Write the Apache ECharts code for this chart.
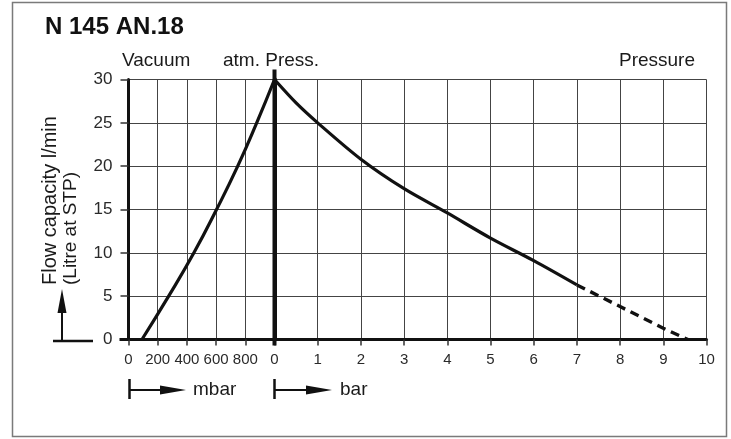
<!DOCTYPE html>
<html>
<head>
<meta charset="utf-8">
<script src="https://cdn.jsdelivr.net/npm/echarts@6/dist/echarts.min.js"></script>
<style>
html,body{margin:0;padding:0;background:#fff;}
#c{width:731px;height:439px;}
</style>
</head>
<body>
<div id="c"></div>
<script>
// ---- data ----
const title = 'N 145 AN.18';
const yName1 = 'Flow capacity l/min';
const yName2 = '(Litre at STP)';
const vacuumMbar = [92, 275, 448, 603, 748, 878, 1000];
const vacuumFlow = [0, 5, 10, 15, 20, 25, 30];
const pressureBar = [0, 0.5, 1, 2, 3, 4, 5, 6, 7];
const pressureFlow = [30, 27.3, 25, 20.8, 17.4, 14.6, 11.7, 9.1, 6.3];
const dashBar = [7, 8, 9, 9.57];
const dashFlow = [6.3, 3.8, 1.3, 0];
const vacuumTicks = [0, 1000, 200];   // min, max, interval (mbar)
const pressureTicks = [0, 10, 1];     // min, max, interval (bar)
const flowTicks = [0, 30, 5];

const FONT = '"Liberation Sans", Arial, Helvetica, sans-serif';
const pair = (xs, ys) => xs.map((x, i) => [x, ys[i]]);

const chart = echarts.init(document.getElementById('c'), null, {renderer: 'canvas'});

const gridTop = 79.5, gridH = 260;
const splitStyle = {lineStyle: {color: '#444', width: 1}};
const xLabel = {fontFamily: FONT, fontSize: 15, color: '#2a2a2a', margin: 13};

const option = {
  animation: false,
  backgroundColor: '#fff',
  grid: [
    {left: 128.5, top: gridTop, width: 146, height: gridH, outerBoundsMode: 'none'},
    {left: 274.5, top: gridTop, width: 432, height: gridH, outerBoundsMode: 'none'}
  ],
  xAxis: [
    {gridIndex: 0, type: 'value', min: vacuumTicks[0], max: vacuumTicks[1], interval: vacuumTicks[2],
     axisLine: {show: true, lineStyle: {color: '#111', width: 3}},
     axisTick: {show: true, length: 6, lineStyle: {color: '#333', width: 1.5}},
     axisLabel: Object.assign({showMaxLabel: false}, xLabel),
     splitLine: Object.assign({show: true}, splitStyle)},
    {gridIndex: 1, type: 'value', min: pressureTicks[0], max: pressureTicks[1], interval: pressureTicks[2],
     axisLine: {show: true, lineStyle: {color: '#111', width: 3}},
     axisTick: {show: true, length: 6, lineStyle: {color: '#333', width: 1.5}},
     axisLabel: xLabel,
     splitLine: Object.assign({show: true}, splitStyle)}
  ],
  yAxis: [
    {gridIndex: 0, type: 'value', min: flowTicks[0], max: flowTicks[1], interval: flowTicks[2],
     axisLine: {show: true, lineStyle: {color: '#111', width: 3}},
     axisTick: {show: true, length: 8, lineStyle: {color: '#333', width: 1.5}},
     axisLabel: {fontFamily: FONT, fontSize: 17, color: '#2a2a2a', margin: 16},
     splitLine: Object.assign({show: true}, splitStyle)},
    {gridIndex: 1, type: 'value', min: flowTicks[0], max: flowTicks[1], interval: flowTicks[2],
     axisLine: {show: true, lineStyle: {color: '#111', width: 4}},
     axisTick: {show: false},
     axisLabel: {show: false},
     splitLine: Object.assign({show: true}, splitStyle)}
  ],
  series: [
    {type: 'line', xAxisIndex: 0, yAxisIndex: 0, data: pair(vacuumMbar, vacuumFlow),
     smooth: 0.5, showSymbol: false, lineStyle: {color: '#111', width: 3.2}, z: 5},
    {type: 'line', xAxisIndex: 1, yAxisIndex: 1, data: pair(pressureBar, pressureFlow),
     smooth: 0.3, showSymbol: false, lineStyle: {color: '#111', width: 3.2}, z: 5},
    {type: 'line', xAxisIndex: 1, yAxisIndex: 1, data: pair(dashBar, dashFlow),
     smooth: false, showSymbol: false, lineStyle: {color: '#111', width: 3.4, type: [9, 6]}, z: 5}
  ]
};
chart.setOption(option);

// decorations positioned relative to the axes
const p0 = chart.convertToPixel({xAxisIndex: 1, yAxisIndex: 1}, [0, 0]);
const p30 = chart.convertToPixel({xAxisIndex: 1, yAxisIndex: 1}, [0, 30]);
const q0 = chart.convertToPixel({xAxisIndex: 0, yAxisIndex: 0}, [0, 0]);
const txt = (x, y, s, opts) => ({type: 'text', x: x, y: y, z: 10,
  style: Object.assign({text: s, fontFamily: FONT, fontSize: 19, fill: '#1a1a1a',
    textAlign: 'left', textVerticalAlign: 'middle'}, opts || {})});

const arrowRight = (x0, y, x1) => [
  {type: 'line', shape: {x1: x0, y1: y - 11, x2: x0, y2: y + 9}, style: {stroke: '#111', lineWidth: 2.5}},
  {type: 'line', shape: {x1: x0, y1: y, x2: x1 - 20, y2: y}, style: {stroke: '#111', lineWidth: 2}},
  {type: 'polygon', shape: {points: [[x1 - 26, y - 4.5], [x1, y], [x1 - 26, y + 4.5]]}, style: {fill: '#111'}}
];

chart.setOption({
  graphic: [
    {type: 'rect', shape: {x: 12.5, y: 2.5, width: 714, height: 434}, style: {fill: 'none', stroke: '#7a7a7a', lineWidth: 1.5}},
    txt(45, 27, title, {fontSize: 24, fontWeight: 'bold', fill: '#111'}),
    txt(122, 61, 'Vacuum'),
    txt(223, 61, 'atm. Press.'),
    txt(695, 61, 'Pressure', {textAlign: 'right'}),
    // y-axis title, rotated, starting at the bottom
    {type: 'text', x: 50, y: 285, rotation: Math.PI / 2, z: 10,
     style: {text: yName1, fontFamily: FONT, fontSize: 20, fill: '#1a1a1a', textAlign: 'left', textVerticalAlign: 'middle'}},
    {type: 'text', x: 71, y: 285, rotation: Math.PI / 2, z: 10,
     style: {text: yName2, fontFamily: FONT, fontSize: 19, fill: '#1a1a1a', textAlign: 'left', textVerticalAlign: 'middle'}},
    // upward arrow
    {type: 'line', shape: {x1: 53, y1: 341, x2: 93, y2: 341}, style: {stroke: '#111', lineWidth: 2.5}},
    {type: 'line', shape: {x1: 62, y1: 341, x2: 62, y2: 305}, style: {stroke: '#111', lineWidth: 2}},
    {type: 'polygon', shape: {points: [[57.5, 313], [62, 289], [66.5, 313]]}, style: {fill: '#111'}},
    // extension of the atm line and of the zero line
    {type: 'line', shape: {x1: p30[0], y1: p30[1] - 10, x2: p30[0], y2: p0[1] + 6}, style: {stroke: '#111', lineWidth: 4}, z: 6},
    {type: 'line', shape: {x1: q0[0] - 9, y1: q0[1], x2: q0[0], y2: q0[1]}, style: {stroke: '#111', lineWidth: 3}, z: 6},
    // unit arrows
    ...arrowRight(q0[0] + 1, 390, 186),
    txt(193, 390, 'mbar'),
    ...arrowRight(p0[0], 390, 332),
    txt(340, 390, 'bar')
  ]
});
</script>
</body>
</html>
